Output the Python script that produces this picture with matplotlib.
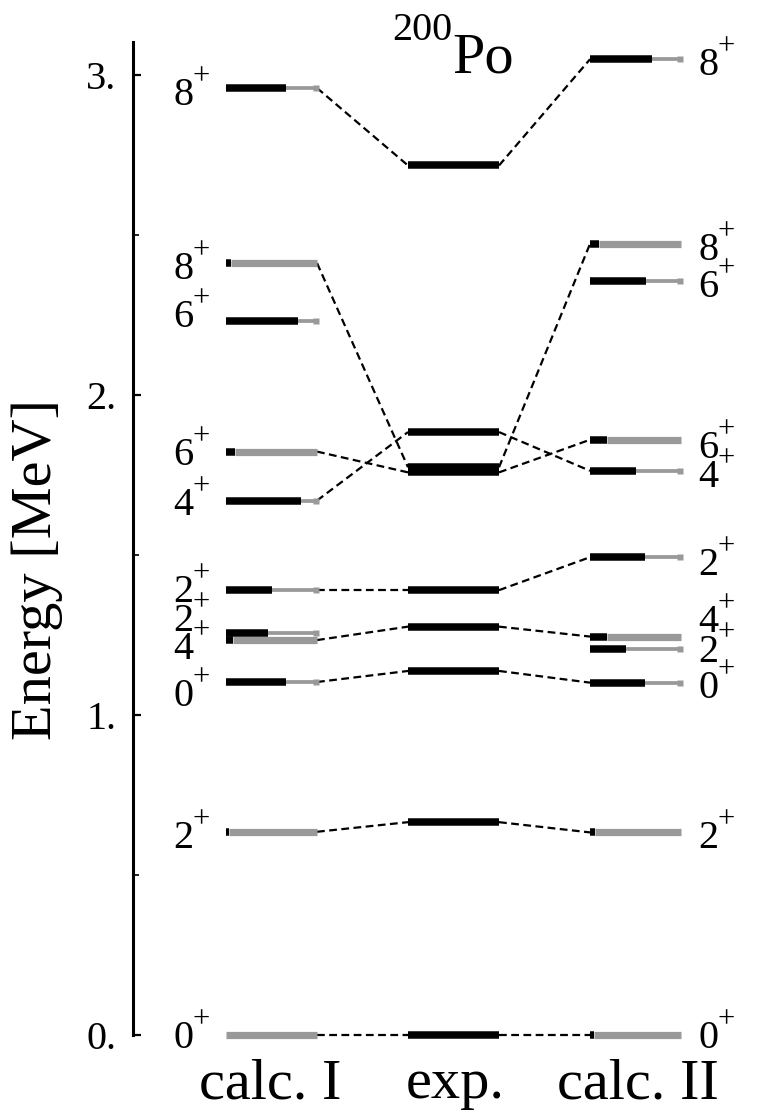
import matplotlib
matplotlib.use("Agg")
import matplotlib.pyplot as plt

plt.rcParams['font.family'] = ['Liberation Serif', 'DejaVu Serif']

# level energies (MeV), spins and black (first-component) fraction of each bar
calc1_E = [2.959, 2.412, 2.231, 1.823, 1.670, 1.390, 1.256, 1.234, 1.103, 0.635, 0.0]
calc1_spin = ['8', '8', '6', '6', '4', '2', '2', '4', '0', '2', '0']
calc1_frac = [0.66, 0.05, 0.79, 0.10, 0.82, 0.50, 0.46, 0.08, 0.66, 0.03, 0.0]
calc1_label_E = [2.947, 2.403, 2.253, 1.822, 1.666, 1.394, 1.303, 1.216, 1.069, 0.625, 0.0]

exp_E = [2.717, 1.884, 1.774, 1.758, 1.390, 1.276, 1.1375, 0.665, 0.0]

calc2_E = [3.049, 2.472, 2.355, 1.860, 1.763, 1.493, 1.245, 1.206, 1.101, 0.633, 0.0]
calc2_spin = ['8', '8', '6', '6', '4', '2', '4', '2', '0', '2', '0']
calc2_frac = [0.68, 0.10, 0.62, 0.19, 0.50, 0.60, 0.19, 0.40, 0.60, 0.06, 0.04]
calc2_label_E = [3.041, 2.4625, 2.347, 1.844, 1.753, 1.478, 1.300, 1.209, 1.094, 0.625, 0.0]

# connections (calc I index -> exp index), (exp index -> calc II index)
links_1 = [(0, 0), (1, 2), (3, 3), (4, 1), (5, 4), (7, 5), (8, 6), (9, 7), (10, 8)]
links_2 = [(0, 0), (2, 1), (3, 3), (1, 4), (4, 5), (5, 6), (6, 8), (7, 9), (8, 10)]

col_labels = ['calc. I', 'exp.', 'calc. II']
col_x0 = [0, 2, 4]

GRAY = '#999999'

fig = plt.figure(figsize=(7.65, 11.16), dpi=100)
ax = fig.add_axes([0.1739, 0.0726, 0.7163, 0.8898])
ax.set_xlim(-1.022, 5.0)
ax.set_ylim(0, 3.103)


def draw_level(x0, e, f):
    lw_b = 5.4
    lw_g = 5.2 if f < 0.3 else 2.7
    if f > 0:
        ax.plot([x0, x0 + f], [e, e], color='black', lw=lw_b,
                solid_capstyle='butt', clip_on=False, zorder=3)
    if f < 1:
        ax.plot([x0 + f, x0 + 1], [e, e], color=GRAY, lw=lw_g,
                solid_capstyle='butt', clip_on=False, zorder=2)
        if f >= 0.3:
            ax.plot([x0 + 0.985], [e], marker='s', ms=5, color=GRAY,
                    mec='none', clip_on=False, zorder=2)


def spin_label(x, e, s):
    ax.annotate(s, (x, e), xytext=(0, -9.7), textcoords='offset points',
                ha='left', va='baseline', fontsize=29, annotation_clip=False)
    ax.annotate('+', (x, e), xytext=(14.3, 5.3), textcoords='offset points',
                ha='left', va='baseline', fontsize=22, annotation_clip=False)


for e, f in zip(calc1_E, calc1_frac):
    draw_level(col_x0[0], e, f)
for e in exp_E:
    draw_level(col_x0[1], e, 1.0)
for e, f in zip(calc2_E, calc2_frac):
    draw_level(col_x0[2], e, f)

for i, j in links_1:
    ax.plot([col_x0[0] + 1, col_x0[1]], [calc1_E[i], exp_E[j]], color='black',
            lw=1.6, dashes=(3.5, 2), zorder=1, clip_on=False)
for i, j in links_2:
    ax.plot([col_x0[1] + 1, col_x0[2]], [exp_E[i], calc2_E[j]], color='black',
            lw=1.6, dashes=(3.5, 2), zorder=1, clip_on=False)

for s, e in zip(calc1_spin, calc1_label_E):
    spin_label(-0.582, e, s)
for s, e in zip(calc2_spin, calc2_label_E):
    spin_label(5.187, e, s)

# axis styling
for side in ['top', 'right', 'bottom']:
    ax.spines[side].set_visible(False)
ax.spines['left'].set_linewidth(2.2)
ax.set_xticks([])
ax.set_yticks([0, 1, 2, 3])
ax.set_yticklabels(['0.', '1.', '2.', '3.'])
ax.set_yticks([0.5, 1.5, 2.5], minor=True)
ax.tick_params(axis='y', which='major', direction='in', length=6, width=1.6,
               labelsize=29, pad=12)
ax.tick_params(axis='y', which='minor', direction='in', length=4, width=1.2)

fig.text(37 / 765, 0.49, 'Energy [MeV]', rotation=90, ha='center', va='center',
         fontsize=42)
fig.text(452 / 765, 0.9346, 'Po', ha='left', va='baseline', fontsize=42)
fig.text(452 / 765, 0.964, '200', ha='right', va='baseline', fontsize=29)

for lab, xc in zip(col_labels, [270, 455, 638]):
    fig.text(xc / 765, 0.016, lab, ha='center', va='baseline', fontsize=42)

fig.savefig('out.png', dpi=100)
plt.close(fig)
